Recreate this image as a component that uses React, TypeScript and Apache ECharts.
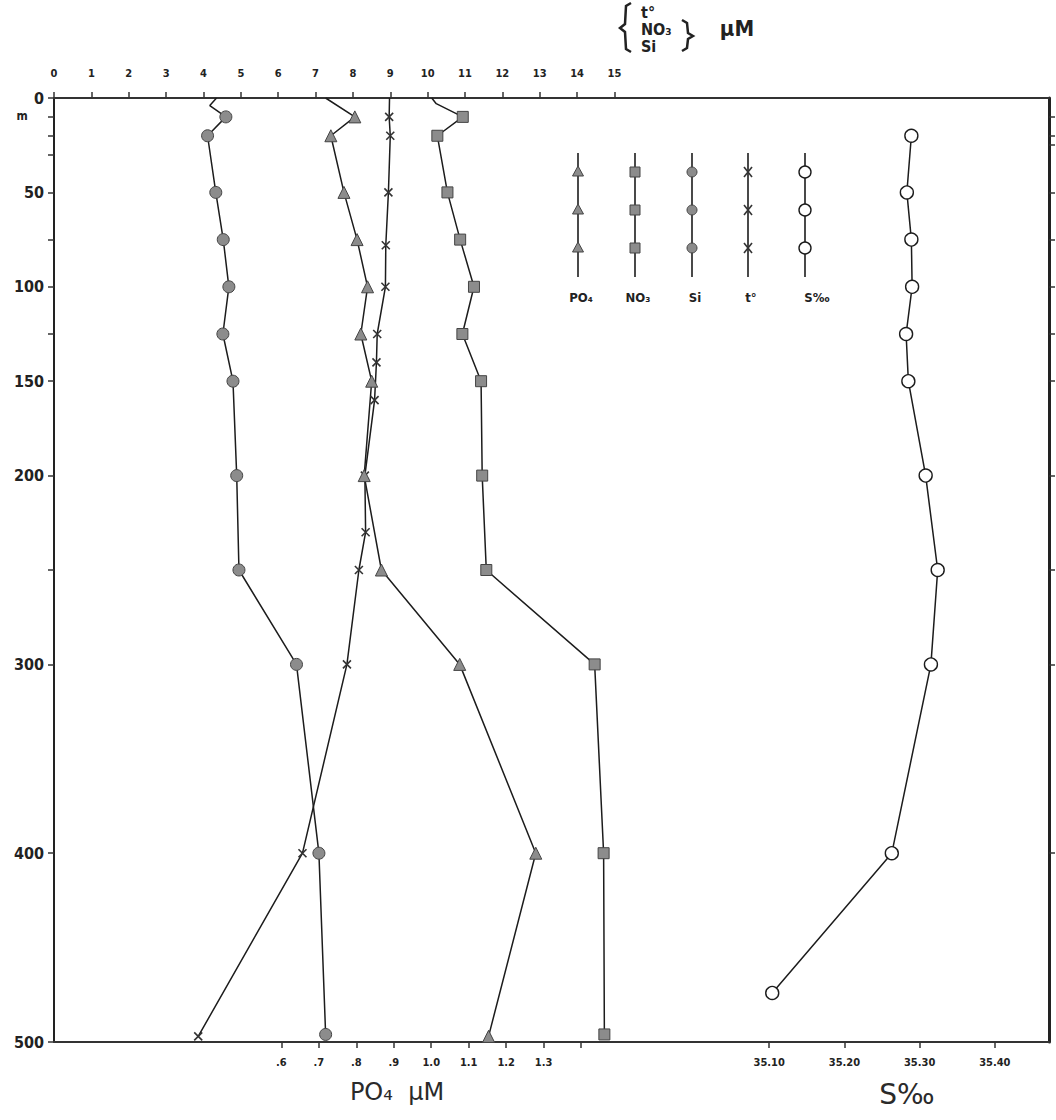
import React, { useEffect, useRef } from "react";
import * as echarts from "echarts";

// ---- data (depth in m, value) ----
const siDepth = [0, 4, 10, 20, 50, 75, 100, 125, 150, 200, 250, 300, 400, 496];
const siValue = [4.35, 4.17, 4.6, 4.11, 4.33, 4.53, 4.68, 4.52, 4.79, 4.89, 4.95, 6.49, 7.09, 7.27];
const siNoMark = [0, 4];

const no3Depth = [0, 3, 10, 20, 50, 75, 100, 125, 150, 200, 250, 300, 400, 496];
const no3Value = [10.11, 10.23, 10.94, 10.26, 10.53, 10.87, 11.24, 10.93, 11.43, 11.46, 11.57, 14.47, 14.71, 14.73];
const no3NoMark = [0, 3];

const tDepth = [0, 10, 20, 50, 78, 100, 125, 140, 160, 200, 230, 250, 300, 400, 497];
const tValue = [8.98, 8.97, 9.0, 8.95, 8.88, 8.87, 8.65, 8.63, 8.58, 8.32, 8.34, 8.16, 7.84, 6.65, 3.86];
const tNoMark = [0];

const po4Depth = [0, 10, 20, 50, 75, 100, 125, 150, 200, 250, 300, 400, 497];
const po4Value = [0.718, 0.796, 0.732, 0.767, 0.802, 0.83, 0.812, 0.841, 0.821, 0.867, 1.076, 1.279, 1.153];
const po4NoMark = [0];

const salDepth = [20, 50, 75, 100, 125, 150, 200, 250, 300, 400, 474];
const salValue = [35.289, 35.283, 35.289, 35.29, 35.282, 35.285, 35.308, 35.324, 35.315, 35.263, 35.104];

// ---- axis ticks / labels ----
const topLabels = [0, 1, 2, 3, 4, 5, 6, 7, 8, 9, 10, 11, 12, 13, 14, 15];
const depthLabels = [0, 50, 100, 150, 200, 300, 400, 500];
const leftTicks = [0, 10, 20, 30, 50, 75, 100, 125, 150, 200, 250, 300, 400, 500];
const rightTicks = [10, 20, 25, 50, 75, 100, 125, 150, 200, 250, 300, 400];
const po4Labels = [0.6, 0.7, 0.8, 0.9, 1.0, 1.1, 1.2, 1.3];
const po4Ticks = [0.6, 0.7, 0.8, 0.9, 1.0, 1.1, 1.2, 1.3, 1.4];
const salLabels = [35.1, 35.2, 35.3, 35.4];

const legendNames = ["PO₄", "NO₃", "Si", "t°", "S‰"];
const unitLines = ["t°", "NO₃", "Si"];

const FONT = '"DejaVu Sans Condensed", "Liberation Sans", sans-serif';
const INK = "#1c1c1c";
const FILL = "#8c8c8c";
const XPATH = "path://M0,0L10,10M10,0L0,10";

function build(depths: number[], values: number[], noMark: number[]) {
  return depths.map((d, i) =>
    noMark.includes(d) ? { value: [values[i], d], symbol: "none" } : { value: [values[i], d] }
  );
}

export default function App() {
  const ref = useRef<HTMLDivElement>(null);
  useEffect(() => {
    const chart = echarts.init(ref.current!, null, { renderer: "svg" });

    const lineStyle = { color: INK, width: 1.5 };
    const markStyle = { color: FILL, borderColor: "#444", borderWidth: 1 };

    const legendX = [578, 635, 692, 748, 805];
    const legendY = [172, 210, 248];
    const legendGraphics: any[] = [];
    legendX.forEach((x, k) => {
      legendGraphics.push({
        type: "line",
        shape: { x1: x, y1: 153, x2: x, y2: 277 },
        style: { stroke: INK, lineWidth: 1.6 },
      });
      legendY.forEach((y) => {
        if (k === 0) {
          legendGraphics.push({
            type: "polygon",
            shape: { points: [[x, y - 6], [x - 5.5, y + 4], [x + 5.5, y + 4]] },
            style: { fill: FILL, stroke: "#444", lineWidth: 1 },
          });
        } else if (k === 1) {
          legendGraphics.push({
            type: "rect",
            shape: { x: x - 5, y: y - 5, width: 10, height: 10 },
            style: { fill: FILL, stroke: "#444", lineWidth: 1 },
          });
        } else if (k === 2) {
          legendGraphics.push({
            type: "circle",
            shape: { cx: x, cy: y, r: 5 },
            style: { fill: FILL, stroke: "#444", lineWidth: 1 },
          });
        } else if (k === 3) {
          legendGraphics.push({
            type: "line",
            shape: { x1: x - 4, y1: y - 5, x2: x + 4, y2: y + 5 },
            style: { stroke: "#333", lineWidth: 1.6 },
          });
          legendGraphics.push({
            type: "line",
            shape: { x1: x + 4, y1: y - 5, x2: x - 4, y2: y + 5 },
            style: { stroke: "#333", lineWidth: 1.6 },
          });
        } else {
          legendGraphics.push({
            type: "circle",
            shape: { cx: x, cy: y, r: 6 },
            style: { fill: "#fff", stroke: INK, lineWidth: 1.4 },
          });
        }
      });
      legendGraphics.push({
        type: "text",
        x: x + (k === 4 ? 12 : 3),
        y: 297,
        style: {
          text: legendNames[k],
          fill: "#222",
          font: `bold 13px ${FONT}`,
          textAlign: "center",
          textVerticalAlign: "middle",
        },
      });
    });

    const unitGraphics: any[] = [
      {
        type: "polyline",
        shape: { points: [[631, 3], [626, 6], [625, 24], [620, 28], [625, 32], [626, 49], [631, 52]] },
        style: { stroke: "#222", lineWidth: 2.5, fill: "none" },
      },
      {
        type: "polyline",
        shape: { points: [[682, 20], [687, 23], [688, 33], [693, 36], [688, 39], [687, 48], [682, 51]] },
        style: { stroke: "#222", lineWidth: 2.5, fill: "none" },
      },
      ...unitLines.map((t, i) => ({
        type: "text",
        x: 641,
        y: 12 + i * 17,
        style: { text: t, fill: "#222", font: `bold 16px ${FONT}`, textAlign: "left", textVerticalAlign: "middle" },
      })),
      {
        type: "text",
        x: 737,
        y: 28,
        style: { text: "µM", fill: "#222", font: `bold 22px ${FONT}`, textAlign: "center", textVerticalAlign: "middle" },
      },
    ];

    const axisLineX = { show: true, onZero: false, lineStyle: { color: "#333", width: 2 } };
    const tickStyle = { color: "#333", width: 1.5 };
    const smallLabel = { color: "#222", fontFamily: FONT, fontWeight: "bold", fontSize: 11 };

    const option: any = {
      animation: false,
      backgroundColor: "#fff",
      grid: { left: 54, right: 7, top: 98, bottom: 78, containLabel: false },
      xAxis: [
        {
          type: "value",
          position: "top",
          min: 0,
          max: 26.63,
          axisLine: axisLineX,
          axisTick: { show: true, length: 6, customValues: topLabels, lineStyle: tickStyle },
          axisLabel: { ...smallLabel, customValues: topLabels, margin: 19 },
          splitLine: { show: false },
        },
        {
          type: "value",
          position: "bottom",
          min: -0.007,
          max: 2.649,
          axisLine: axisLineX,
          axisTick: { show: true, length: 6, customValues: po4Ticks, lineStyle: tickStyle },
          axisLabel: {
            ...smallLabel,
            customValues: po4Labels,
            margin: 15,
            formatter: (v: number) => (v < 1 ? "." + Math.round(v * 10) : v.toFixed(1)),
          },
          splitLine: { show: false },
        },
        {
          type: "value",
          position: "bottom",
          min: 34.149,
          max: 35.472,
          axisLine: { show: false, onZero: false },
          axisTick: { show: true, length: 6, customValues: salLabels, lineStyle: tickStyle },
          axisLabel: {
            ...smallLabel,
            customValues: salLabels,
            margin: 15,
            formatter: (v: number) => v.toFixed(2),
          },
          splitLine: { show: false },
        },
      ],
      yAxis: [
        {
          type: "value",
          position: "left",
          inverse: true,
          min: 0,
          max: 500,
          axisLine: { show: true, onZero: false, lineStyle: { color: "#222", width: 2 } },
          axisTick: { show: true, length: 6, customValues: leftTicks, lineStyle: tickStyle },
          axisLabel: {
            customValues: depthLabels,
            margin: 10,
            color: "#222",
            fontFamily: FONT,
            fontSize: 16,
            fontWeight: "bold",
          },
          splitLine: { show: false },
        },
        {
          type: "value",
          position: "right",
          inverse: true,
          min: 0,
          max: 500,
          axisLine: { show: true, onZero: false, lineStyle: { color: "#222", width: 3 } },
          axisTick: { show: true, length: 6, customValues: rightTicks, lineStyle: tickStyle },
          axisLabel: { show: false },
          splitLine: { show: false },
        },
      ],
      series: [
        {
          name: "Si",
          type: "line",
          xAxisIndex: 0,
          yAxisIndex: 0,
          data: build(siDepth, siValue, siNoMark),
          symbol: "circle",
          symbolSize: 12,
          lineStyle,
          itemStyle: markStyle,
          z: 3,
        },
        {
          name: "NO3",
          type: "line",
          xAxisIndex: 0,
          yAxisIndex: 0,
          data: build(no3Depth, no3Value, no3NoMark),
          symbol: "rect",
          symbolSize: 11,
          lineStyle,
          itemStyle: markStyle,
          z: 3,
        },
        {
          name: "t",
          type: "line",
          xAxisIndex: 0,
          yAxisIndex: 0,
          data: build(tDepth, tValue, tNoMark),
          symbol: XPATH,
          symbolSize: 8,
          lineStyle,
          itemStyle: { color: "#555", borderColor: "#333", borderWidth: 1.6 },
          z: 3,
        },
        {
          name: "PO4",
          type: "line",
          xAxisIndex: 1,
          yAxisIndex: 0,
          data: build(po4Depth, po4Value, po4NoMark),
          symbol: "triangle",
          symbolSize: 12,
          lineStyle,
          itemStyle: markStyle,
          z: 3,
        },
        {
          name: "S",
          type: "line",
          xAxisIndex: 2,
          yAxisIndex: 0,
          data: salDepth.map((d, i) => [salValue[i], d]),
          symbol: "circle",
          symbolSize: 13,
          lineStyle,
          itemStyle: { color: "#fff", borderColor: INK, borderWidth: 1.4 },
          z: 3,
        },
      ],
      graphic: [
        {
          type: "text",
          x: 22,
          y: 116,
          style: { text: "m", fill: "#222", font: `bold 12px ${FONT}`, textAlign: "center", textVerticalAlign: "middle" },
        },
        ...unitGraphics,
        {
          type: "text",
          x: 397,
          y: 1092,
          style: { text: "PO₄  µM", fill: "#2a2a2a", font: `24px "DejaVu Sans", sans-serif`, textAlign: "center", textVerticalAlign: "middle" },
        },
        {
          type: "text",
          x: 907,
          y: 1094,
          style: { text: "S‰", fill: "#2a2a2a", font: `28px "DejaVu Sans", sans-serif`, textAlign: "center", textVerticalAlign: "middle" },
        },
        ...legendGraphics,
      ],
    };
    chart.setOption(option);
    return () => chart.dispose();
  }, []);

  return (
    <div
      ref={ref}
      style={{ position: "fixed", left: 0, top: 0, width: 1056, height: 1120, background: "#fff" }}
    />
  );
}
